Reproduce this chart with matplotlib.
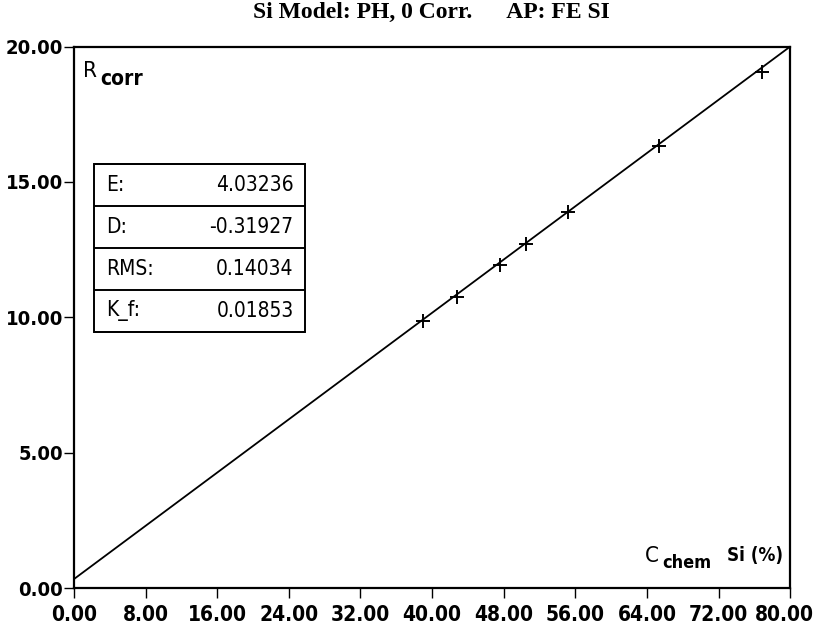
import numpy as np
import matplotlib.pyplot as plt
from matplotlib.patches import Rectangle
from matplotlib.transforms import ScaledTranslation

# measured points (C_chem Si %, R_corr)
c_chem = [39.0, 42.8, 47.6, 50.5, 55.2, 65.3, 76.8]
r_corr = [9.88, 10.74, 11.93, 12.72, 13.88, 16.32, 19.07]

# calibration line end points
line_x = [0.0, 80.0]
line_y = [0.33, 20.0]

x_ticks = np.arange(0, 81, 8)
y_ticks = np.arange(0, 21, 5)

tab_names = ['E:', 'D:', 'RMS:', 'K_f:']
tab_vals = ['4.03236', '-0.31927', '0.14034', '0.01853']

narrow = dict(family='DejaVu Sans', stretch='condensed')

fig = plt.figure(figsize=(8.13, 6.26), dpi=100)
ax = fig.add_axes([0.091, 0.0607, 0.881, 0.865])

ax.plot(line_x, line_y, color='black', lw=1.3)
ax.plot(c_chem, r_corr, '+', color='black', ms=10, mew=1.4)

ax.set_xlim(0, 80)
ax.set_ylim(0, 20)
ax.set_xticks(x_ticks)
ax.set_yticks(y_ticks)
ax.set_xticklabels(['%.2f' % v for v in x_ticks])
ax.set_yticklabels(['%.2f' % v for v in y_ticks])
for lab in ax.get_xticklabels():
    lab.set(family='DejaVu Sans', stretch='condensed', fontweight='bold', fontsize=15)
for lab in ax.get_yticklabels():
    lab.set(family='DejaVu Sans', stretch='condensed', fontweight='bold', fontsize=14.5)
ax.tick_params(axis='x', direction='out', length=7, width=1, pad=5)
ax.tick_params(axis='y', direction='out', length=7, width=1, pad=1)
# last x label sits a little to the left so it stays inside the picture
last = ax.get_xticklabels()[-1]
last.set_transform(last.get_transform() + ScaledTranslation(-6 / 100, 0, fig.dpi_scale_trans))
for s in ax.spines.values():
    s.set_linewidth(1.6)

fig.text(0.53, 0.997, 'Si Model: PH, 0 Corr.      AP: FE SI', ha='center', va='top',
         family='Liberation Serif', fontweight='bold', fontsize=17)

# axis names inside the frame
ax.text(0.012, 0.974, 'R', transform=ax.transAxes, fontsize=16, va='top', **narrow)
ax.text(0.037, 0.958, 'corr', transform=ax.transAxes, fontsize=15,
        fontweight='bold', va='top', **narrow)
ax.text(0.797, 0.04, 'C', transform=ax.transAxes, fontsize=16, va='bottom', **narrow)
ax.text(0.821, 0.029, 'chem', transform=ax.transAxes, fontsize=13,
        fontweight='bold', va='bottom', **narrow)
ax.text(0.912, 0.042, 'Si (%)', transform=ax.transAxes, fontsize=13.5,
        fontweight='bold', va='bottom', **narrow)

tab = ax.table(cellText=[[n, v] for n, v in zip(tab_names, tab_vals)],
               bbox=[0.028, 0.473, 0.295, 0.31], edges='horizontal')
tab.auto_set_font_size(False)
for (r, c), cell in tab.get_celld().items():
    cell.set_linewidth(1.2)
    t = cell.get_text()
    t.set(family='DejaVu Sans', stretch='condensed', fontsize=15)
    cell.PAD = 0.11
    if c == 0:
        cell._loc = 'left'
        t.set_ha('left')
    else:
        cell._loc = 'right'
        t.set_ha('right')

# outer frame of the box
ax.add_patch(Rectangle((0.028, 0.473), 0.295, 0.31, transform=ax.transAxes,
                       fill=False, lw=1.4, color='black', zorder=5))

fig.savefig('out.png', dpi=100)
